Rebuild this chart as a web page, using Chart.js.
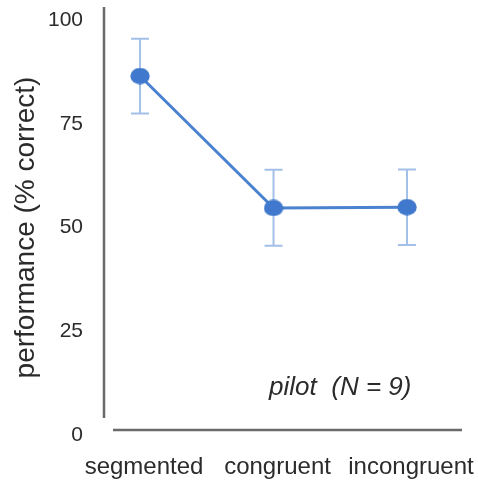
<!DOCTYPE html>
<html>
<head>
<meta charset="utf-8">
<script src="https://cdn.jsdelivr.net/npm/chart.js@4/dist/chart.umd.min.js"></script>
<style>
  html, body { margin: 0; padding: 0; background: #fff; }
  #wrap { width: 478px; height: 481px; }
</style>
</head>
<body>
<div id="wrap"><canvas id="c" width="478" height="481"></canvas></div>
<script>
// Conditions and mean performance (% correct) with error-bar limits
const conditions = ['segmented', 'congruent', 'incongruent'];
const meanCorrect = [86.5, 54.7, 54.9];
const errLow = [77.5, 45.6, 45.8];
const errHigh = [95.5, 63.9, 64.0];
const yTicks = [0, 25, 50, 75, 100];
const noteText = 'pilot  (N = 9)';

const FONT = '"Liberation Sans", Arial, Helvetica, sans-serif';
const TEXT = '#2b2b2b';
const LINE_BLUE = '#4a82d0';
const DOT_BLUE = '#3f78cc';
const ERR_BLUE = '#a3c0e8';
const AXIS_GREY = '#6a6a6a';

// Slightly wide oval marker
function ovalDot(w, h, color) {
  const c = document.createElement('canvas');
  c.width = w; c.height = h;
  const g = c.getContext('2d');
  g.fillStyle = color;
  g.beginPath();
  g.ellipse(w / 2, h / 2, w / 2 - 0.3, h / 2 - 0.3, 0, 0, Math.PI * 2);
  g.fill();
  return c;
}

const decor = {
  id: 'decor',
  beforeDatasetsDraw(chart) {
    const { ctx, scales: { x, y } } = chart;
    ctx.save();
    ctx.strokeStyle = ERR_BLUE;
    ctx.lineWidth = 2;
    conditions.forEach((_, i) => {
      const px = x.getPixelForValue(i);
      const t = y.getPixelForValue(errHigh[i]);
      const b = y.getPixelForValue(errLow[i]);
      ctx.beginPath();
      ctx.moveTo(px, t); ctx.lineTo(px, b);
      ctx.moveTo(px - 9, t); ctx.lineTo(px + 9, t);
      ctx.moveTo(px - 9, b); ctx.lineTo(px + 9, b);
      ctx.stroke();
    });
    ctx.restore();
  },
  afterDraw(chart) {
    const { ctx, chartArea: a, scales: { x, y } } = chart;
    ctx.save();
    // separate axis lines that do not meet at the corner
    ctx.strokeStyle = AXIS_GREY;
    ctx.lineWidth = 2.5;
    ctx.beginPath();
    ctx.moveTo(a.left, a.top - 13);
    ctx.lineTo(a.left, a.bottom - 17);
    ctx.moveTo(a.left + 9, a.bottom - 5);
    ctx.lineTo(a.right, a.bottom - 5);
    ctx.stroke();
    // sample note
    ctx.fillStyle = TEXT;
    ctx.font = 'italic 26px ' + FONT;
    ctx.textAlign = 'center';
    ctx.textBaseline = 'middle';
    ctx.fillText(noteText, x.getPixelForValue(1.5), y.getPixelForValue(11.5));
    ctx.restore();
  }
};

new Chart(document.getElementById('c'), {
  type: 'line',
  data: {
    datasets: [{
      data: meanCorrect.map((v, i) => ({ x: i, y: v })),
      borderColor: LINE_BLUE,
      borderWidth: 3,
      pointStyle: ovalDot(20, 17, DOT_BLUE),
      pointRadius: 9,
      pointHoverRadius: 9,
      tension: 0,
      fill: false
    }]
  },
  options: {
    responsive: false,
    devicePixelRatio: 1,
    animation: false,
    events: [],
    layout: { padding: { top: 20, right: 16, bottom: 0, left: 0 } },
    plugins: { legend: { display: false }, tooltip: { enabled: false } },
    scales: {
      x: {
        type: 'linear',
        min: -0.27,
        max: 2.412,
        border: { display: false },
        grid: { display: false, drawTicks: false },
        afterBuildTicks(s) { s.ticks = conditions.map((_, i) => ({ value: i })); },
        afterFit(s) { s.height = 46; s.paddingLeft = 0; s.paddingRight = 0; },
        ticks: {
          padding: 18,
          labelOffset: 4,
          maxRotation: 0,
          autoSkip: false,
          color: TEXT,
          font: { family: FONT, size: 24 },
          callback: (v) => conditions[v]
        }
      },
      y: {
        min: 0,
        max: 100,
        border: { display: false },
        grid: { display: false, drawTicks: false },
        afterBuildTicks(s) { s.ticks = yTicks.map(v => ({ value: v })); },
        afterFit(s) { s.width = 104; s.paddingTop = 0; s.paddingBottom = 0; },
        ticks: {
          padding: 21,
          color: TEXT,
          font: { family: FONT, size: 21 }
        },
        title: {
          display: true,
          text: 'performance (% correct)',
          color: TEXT,
          font: { family: FONT, size: 28 },
          padding: { top: 9, bottom: 0 }
        }
      }
    }
  },
  plugins: [decor]
});
</script>
</body>
</html>
